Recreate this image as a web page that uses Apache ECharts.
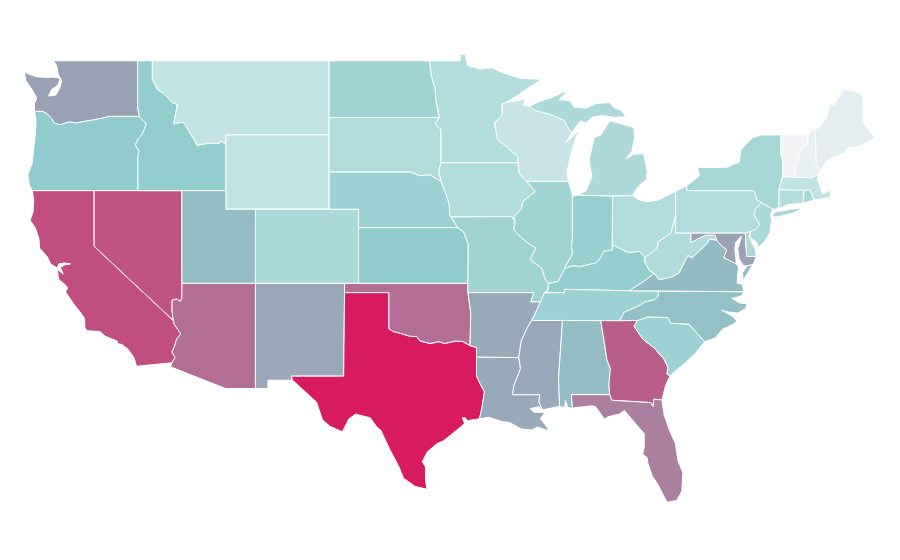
<!DOCTYPE html>
<html lang="en">

<head>
    <meta charset="UTF-8">
    <title>US states</title>
    <style>
        html, body { margin: 0; background: #fff; }
        #chart { width: 900px; height: 560px; }
    </style>
</head>

<body>
    <div id="chart"></div>
    <script src="https://cdn.jsdelivr.net/npm/echarts@6/dist/echarts.min.js"></script>
    <script>
        // values, 0 = palest, 100 = darkest
        var stateNames = ['Washington', 'Oregon', 'California', 'Nevada', 'Idaho', 'Montana', 'Wyoming', 'Utah', 'Arizona', 'Colorado', 'New Mexico', 'North Dakota', 'South Dakota', 'Nebraska', 'Kansas', 'Oklahoma', 'Texas', 'Minnesota', 'Iowa', 'Missouri', 'Arkansas', 'Louisiana', 'Wisconsin', 'Illinois', 'Michigan', 'Indiana', 'Ohio', 'Kentucky', 'Tennessee', 'Mississippi', 'Alabama', 'Georgia', 'Florida', 'South Carolina', 'North Carolina', 'Virginia', 'West Virginia', 'Maryland', 'Delaware', 'Pennsylvania', 'New Jersey', 'New York', 'Connecticut', 'Rhode Island', 'Massachusetts', 'Vermont', 'New Hampshire', 'Maine'];
        var stateValues = [75, 50, 90.5, 89.5, 49, 25, 26, 59.3, 84.5, 37, 71.5, 42.8, 33.5, 44, 50, 84.5, 100, 33, 33.5, 42, 70, 70, 22.9, 42, 36, 46, 33.5, 48, 44, 70, 59.3, 87.5, 81.3, 44, 56.4, 60.5, 34.6, 74.5, 37, 34, 37, 39, 32.7, 38, 26, 0, 5.7, 8.3];
        var scaleColors = ['#f4f4f6', '#c4e3e4', '#90cccd', '#9aa1b5', '#d81b60'];

        // shared state borders, lon,lat
        var borders = {
            wa_n: '-122.76,49 -117.04,49',
            wa_id: '-117.04,49 -117.04,46.42 -116.92,46',
            wa_or: '-124.05,46.27 -123.5,46.27 -123.2,46.15 -122.85,45.85 -122.75,45.65 -122.3,45.55 -121.7,45.7 -121.2,45.65 -120.6,45.74 -120,45.82 -119.3,45.93 -119,46 -116.92,46',
            c_wa: '-124.05,46.27 -124.05,46.7 -123.9,47 -124.2,47.43 -124.65,47.95 -124.73,48.38 -124,48.15 -123.3,48.1 -122.75,48.13 -122.3,48.05 -122.45,47.7 -122.9,47.45 -123.1,47.1 -122.6,47.15 -122.35,47.5 -122.2,47.9 -122.45,48.3 -122.55,48.75 -122.76,49',
            c_or: '-124.05,46.27 -123.95,45.8 -124,45 -124.1,44.3 -124.2,43.5 -124.5,42.85 -124.4,42.3 -124.2,42',
            or_ca: '-124.2,42 -120,42',
            or_nv: '-120,42 -117.03,42',
            or_id: '-117.03,42 -117.03,43.83 -116.95,44.15 -117.05,44.25 -117.2,44.45 -117.05,44.75 -116.85,44.9 -116.7,45.1 -116.46,45.6 -116.7,45.8 -116.92,46',
            id_n: '-117.04,49 -116.05,49',
            id_mt: '-116.05,49 -116.05,48 -115.7,47.45 -115.3,47.25 -114.7,46.75 -114.35,46.65 -114.6,45.6 -113.95,45.7 -113.45,45.05 -113,44.45 -112.3,44.55 -111.5,44.55 -111.4,44.7 -111.05,44.48',
            id_wy: '-111.05,44.48 -111.05,42',
            id_ut: '-111.05,42 -114.04,42',
            id_nv: '-114.04,42 -117.03,42',
            mt_n: '-116.05,49 -104.05,49',
            mt_nd: '-104.05,49 -104.05,45.94',
            mt_sd: '-104.05,45.94 -104.05,45',
            mt_wy: '-111.05,44.48 -111.05,45 -104.05,45',
            wy_sd: '-104.05,45 -104.05,43',
            wy_ne: '-104.05,43 -104.05,41',
            wy_co: '-104.05,41 -109.05,41',
            ut_wy: '-109.05,41 -111.05,41 -111.05,42',
            nd_n: '-104.05,49 -97.23,49',
            nd_mn: '-97.23,49 -97.1,48.2 -96.85,47.5 -96.8,46.9 -96.56,45.94',
            nd_sd: '-104.05,45.94 -96.56,45.94',
            sd_mn: '-96.56,45.94 -96.85,45.6 -96.45,45.3 -96.45,43.5',
            sd_ia: '-96.45,43.5 -96.6,43.1 -96.45,42.49',
            sd_ne: '-104.05,43 -98.5,43 -97.9,42.8 -97.2,42.85 -96.7,42.6 -96.45,42.49',
            ne_ia: '-96.45,42.49 -96.1,41.8 -95.9,41.3 -95.85,40.7 -95.77,40.58',
            ne_mo: '-95.77,40.58 -95.3,40',
            ne_ks: '-102.05,40 -95.3,40',
            co_ne: '-104.05,41 -102.05,41 -102.05,40',
            co_ks: '-102.05,40 -102.05,37',
            ks_mo: '-95.3,40 -94.9,39.75 -94.6,39.1 -94.62,37',
            ks_ok: '-102.05,37 -94.62,37',
            co_ok: '-102.05,37 -103,37',
            co_nm: '-103,37 -109.05,37',
            ut_co: '-109.05,37 -109.05,41',
            ut_az: '-109.05,37 -114.04,37',
            ut_nv: '-114.04,37 -114.04,42',
            nv_az: '-114.04,37 -114.04,36.2 -114.15,36.03 -114.4,36.15 -114.7,36.1 -114.72,35.6 -114.63,35',
            ca_nv: '-114.63,35 -120,39 -120,42',
            ca_az: '-114.63,35 -114.57,34.8 -114.12,34.28 -114.4,34 -114.55,33.6 -114.72,33.3 -114.5,33 -114.72,32.72',
            ca_mx: '-117.12,32.53 -114.72,32.72',
            c_ca: '-124.2,42 -124.1,41.5 -124.15,40.85 -124.35,40.4 -124,40 -123.75,39.4 -123.7,38.9 -123.2,38.45 -122.95,38.05 -122.5,37.82 -122.4,38.05 -122.05,38.1 -121.6,38.05 -122,38 -122.3,37.85 -122.1,37.5 -122.4,37.7 -122.5,37.7 -122.4,37.2 -122,36.95 -121.8,36.75 -121.95,36.55 -121.4,35.9 -120.9,35.4 -120.65,35.1 -120.63,34.6 -120.45,34.45 -119.6,34.4 -119.25,34.15 -118.8,34 -118.45,33.9 -118.4,33.75 -118.1,33.7 -117.7,33.45 -117.3,33 -117.12,32.53',
            az_s: '-114.72,32.72 -114.81,32.5 -111.07,31.33 -109.05,31.33',
            az_nm: '-109.05,31.33 -109.05,37',
            nm_s: '-109.05,31.33 -108.2,31.33 -108.2,31.78 -106.53,31.78',
            nm_ok: '-103,37 -103,36.5',
            nm_tx: '-103,36.5 -103.06,32 -106.62,32 -106.53,31.78',
            ok_tx: '-103,36.5 -100,36.5 -100,34.56 -99.7,34.4 -99.2,34.3 -98.6,34.15 -98.1,34.13 -97.9,33.9 -97.2,33.75 -96.6,33.85 -96.2,33.75 -95.5,33.88 -95,33.87 -94.48,33.64',
            mo_ok: '-94.62,37 -94.62,36.5',
            ok_ar: '-94.62,36.5 -94.43,35.4 -94.48,33.64',
            ar_tx: '-94.48,33.64 -94.04,33.55 -94.04,33.02',
            tx_la: '-94.04,33.02 -94.04,32 -93.8,31.6 -93.5,31.15 -93.65,30.4 -93.72,30.1 -93.84,29.7',
            c_tx: '-97.4,25.9 -97.5,26.4 -97.5,27.1 -97.72,27.38 -97.38,27.92 -96.7,28.37 -96.3,28.5 -95.8,28.82 -95.1,29.27 -94.85,29.45 -95,29.75 -94.8,29.75 -94.66,29.6 -93.84,29.7',
            tx_rio: '-106.53,31.78 -106,31.4 -104.9,30.6 -104.5,29.65 -104,29.3 -103.15,29 -102.7,29.7 -102.25,29.95 -101.25,29.75 -100.8,29.25 -100.55,29.1 -99.9,28 -99.3,27.1 -99,26.5 -98.2,26.05 -97.4,25.9',
            c_mn: '-97.23,49 -95.15,49 -95.15,49.38 -94.8,49.33 -94.65,48.75 -93.8,48.55 -92.95,48.62 -92.4,48.4 -91.05,48.05 -89.6,48 -90.5,47.55 -91.4,47.05 -92.05,46.75',
            mn_wi: '-92.05,46.75 -92.3,46.65 -92.29,46.1 -92.8,45.65 -92.75,45.3 -92.6,44.75 -91.9,44.3 -91.25,43.85 -91.22,43.5',
            ia_mn: '-96.45,43.5 -91.22,43.5',
            ia_wi: '-91.22,43.5 -91.15,42.95 -90.65,42.5',
            ia_il: '-90.65,42.5 -90.05,41.95 -90.9,41.4 -91,41 -91.5,40.6 -91.42,40.38',
            ia_mo: '-95.77,40.58 -91.7,40.6 -91.42,40.38',
            mo_il: '-91.42,40.38 -91.5,39.9 -91.05,39.5 -90.6,39.2 -90,38.9 -90.4,38.3 -89.6,37.8 -89.4,37.25 -89.15,37',
            mo_ky: '-89.15,37 -89.2,36.6 -89.42,36.5',
            mo_tn: '-89.42,36.5 -89.7,36',
            mo_ar: '-94.62,36.5 -90.15,36.5 -90.37,36 -89.7,36',
            tn_ar: '-89.7,36 -90.1,35.3 -90.3,35',
            ms_ar: '-90.3,35 -90.6,34.6 -91,33.9 -91.17,33',
            ar_la: '-94.04,33.02 -91.17,33',
            la_ms: '-91.17,33 -91.05,32.4 -91.5,31.5 -91.6,31 -89.75,31 -89.8,30.6 -89.55,30.18',
            c_la: '-93.84,29.7 -93.2,29.78 -92.3,29.55 -91.8,29.5 -91,29.15 -90.3,29.1 -89.9,29.25 -89.1,29.05 -89.4,29.4 -89.7,29.7 -89.4,30.05 -90.1,30.05 -90.4,30.25 -89.8,30.35 -89.55,30.18',
            c_ms: '-89.55,30.18 -88.4,30.37',
            ms_al: '-88.2,35 -88.47,31.9 -88.4,30.37',
            tn_ms: '-88.2,35 -90.3,35',
            tn_al: '-85.6,34.99 -88.2,35',
            tn_ga: '-84.32,34.99 -85.6,34.99',
            c_al: '-88.4,30.37 -88.05,30.3 -88,30.7 -87.85,30.3 -87.52,30.28',
            al_ga: '-85.6,34.99 -85.18,32.87 -84.95,32.4 -85.05,31.55 -85,31',
            al_fl: '-85,31 -87.6,31 -87.52,30.28',
            ga_fl: '-85,31 -84.86,30.7 -82.2,30.57 -82.05,30.36 -82,30.75 -81.45,30.72',
            c_fl: '-87.52,30.28 -86.2,30.4 -85.95,30.35 -85.35,29.68 -85.15,29.8 -84.35,29.95 -84,30.15 -83.2,29.4 -82.65,28.9 -82.65,28.2 -82.75,27.8 -82.45,27.6 -82.4,27.3 -82.1,26.6 -81.75,26.2 -81.1,25.2 -80.45,25.3 -80.1,25.8 -80.03,26.8 -80.35,27.4 -80.55,28.4 -80.9,29 -81.3,29.9 -81.45,30.72',
            c_ga: '-81.45,30.72 -81.2,31.5 -80.9,32.03',
            ga_sc: '-83.1,35 -83.35,34.7 -82.75,34 -81.95,33.5 -81.3,32.9 -81.05,32.5 -81.1,32.1 -80.9,32.03',
            nc_sc: '-83.1,35 -82.4,35.2 -81.05,35.15 -80.85,34.85 -79.6,34.8 -78.55,33.86',
            c_sc: '-80.9,32.03 -80.5,32.3 -79.9,32.7 -79.2,33.2 -78.55,33.86',
            nc_ga: '-84.32,34.99 -83.1,35',
            c_nc: '-78.55,33.86 -77.85,34.05 -77.3,34.55 -76.7,34.75 -76.35,34.95 -76.6,35.2 -77.4,35.55 -76.9,35.45 -76.3,35.4 -75.75,35.65 -75.7,35.9 -76.2,35.95 -76.7,36.2 -76.1,36.3 -75.87,36.55',
            tn_nc: '-81.68,36.59 -81.7,36.3 -82,36.1 -82.6,36 -83.1,35.75 -84,35.45 -84.32,34.99',
            va_nc: '-81.68,36.59 -75.87,36.55',
            tn_va: '-83.68,36.6 -81.68,36.59',
            ky_tn: '-89.42,36.5 -88.07,36.5 -88.07,36.68 -83.68,36.6',
            ky_va: '-81.97,37.54 -82.7,37.1 -83.68,36.6',
            ky_wv: '-82.6,38.42 -82.6,38.15 -82.3,37.7 -81.97,37.54',
            il_ky: '-89.15,37 -88.5,37.1 -88.05,37.8',
            il_in: '-87.53,41.7 -87.53,39.35 -87.6,39 -87.5,38.6 -87.95,38 -88.05,37.8',
            in_ky: '-88.05,37.8 -87.5,37.95 -87.05,37.9 -86.5,38 -85.9,38.1 -85.6,38.4 -85.4,38.73 -84.82,38.8 -84.82,39.1',
            in_oh: '-84.8,41.7 -84.82,39.1',
            oh_ky: '-84.82,39.1 -84.25,38.85 -83.7,38.65 -83,38.72 -82.6,38.42',
            oh_wv: '-82.6,38.42 -82.2,38.6 -81.75,38.95 -81.7,39.25 -80.85,39.7 -80.52,40.64',
            oh_pa: '-80.52,40.64 -80.52,41.97',
            pa_wv: '-80.52,40.64 -80.52,39.72 -79.48,39.72',
            md_wv: '-79.48,39.72 -79.48,39.2 -78.9,39.45 -78.45,39.6 -77.85,39.6 -77.72,39.32',
            va_wv: '-77.72,39.32 -78.2,39.4 -78.4,39.15 -78.9,38.75 -79.4,38.4 -79.7,38.5 -80.3,37.55 -80.8,37.35 -81.65,37.2 -81.97,37.54',
            c_va: '-75.87,36.55 -76,36.95 -76.35,37 -76.3,37.5 -76.25,37.9 -76.4,38.05',
            va_md: '-76.4,38.05 -76.9,38.25 -77.25,38.4 -77.05,38.8 -77.5,39.1 -77.72,39.32',
            es: '-75.25,38.03 -75.65,37.95',
            va_es: '-75.65,37.95 -75.97,37.6 -75.95,37.15 -75.6,37.6 -75.25,38.03',
            c_md: '-76.4,38.05 -76.5,38.85 -76.45,39.2 -76.05,39.55 -76.1,39.35 -76.3,38.9 -76.2,38.3 -75.9,37.95 -75.65,37.95',
            md_es: '-75.05,38.45 -75.25,38.03',
            md_de: '-75.05,38.45 -75.7,38.46 -75.79,39.72',
            md_pa: '-79.48,39.72 -75.79,39.72',
            de_pa: '-75.79,39.72 -75.42,39.8',
            c_de: '-75.42,39.8 -75.55,39.55 -75.4,39.3 -75.1,38.8 -75.05,38.45',
            c_nj: '-73.9,41 -74.1,40.7 -74,40.45 -74.1,39.75 -74.45,39.3 -74.9,38.93 -75,39.2 -75.5,39.5 -75.42,39.8',
            pa_nj: '-74.7,41.36 -75.1,41 -75.2,40.7 -74.8,40.15 -75.1,39.9 -75.42,39.8',
            ny_nj: '-74.7,41.36 -73.9,41',
            ny_pa: '-79.76,42.27 -79.76,42 -75.2,42 -75,41.5 -74.7,41.36',
            c_pa: '-80.52,41.97 -79.76,42.27',
            c_oh: '-83.45,41.73 -83,41.5 -82.5,41.4 -81.7,41.5 -80.52,41.97',
            c_ny1: '-79.76,42.27 -78.9,42.8 -79.05,43.26 -77.6,43.25 -77,43.27 -76.2,43.55 -76.1,44.2 -75.3,44.85 -74.7,45 -73.35,45.01',
            ny_vt: '-73.35,45.01 -73.4,44 -73.25,43.6 -73.27,42.75',
            ny_ma: '-73.27,42.75 -73.5,42.05',
            ny_ct: '-73.5,42.05 -73.5,41.2 -73.65,41',
            c_ny2: '-73.65,41 -73.9,41',
            li: '-74,40.6 -73.75,40.85 -72.6,41 -71.87,41.07 -72.5,40.8 -73.7,40.58',
            vt_n: '-73.35,45.01 -71.5,45.01',
            vt_nh: '-71.5,45.01 -71.6,44.5 -71.9,44.3 -72.05,44.1 -72.35,43.3 -72.46,42.73',
            vt_ma: '-73.27,42.75 -72.46,42.73',
            nh_ma: '-72.46,42.73 -71.3,42.7 -70.82,42.87',
            nh_n: '-71.5,45.01 -71.3,45.3 -71.08,45.3',
            nh_me: '-71.08,45.3 -71,44.3 -70.97,43.4 -70.7,43.07',
            c_nh: '-70.7,43.07 -70.82,42.87',
            me_o: '-71.08,45.3 -70.8,45.4 -70.3,45.9 -70,46.7 -69.8,46.6 -69.1,47.45 -68.3,47.35 -67.8,47.07 -67.8,45.7 -67.45,45.3 -66.95,44.85 -68,44.4 -68.8,44.3 -69.1,44 -70,43.75 -70.3,43.55 -70.7,43.07',
            ma_ct: '-73.5,42.05 -71.8,42.02',
            ma_ri: '-71.8,42.02 -71.38,42.02 -71.2,41.65 -71.13,41.5',
            c_ma: '-71.13,41.5 -70.65,41.55 -70,41.65 -70,42.05 -70.55,41.8 -70.7,42.25 -70.9,42.6 -70.82,42.87',
            ct_ri: '-71.8,42.02 -71.86,41.32',
            c_ri: '-71.86,41.32 -71.3,41.45 -71.13,41.5',
            c_ct: '-73.65,41 -72.9,41.25 -71.86,41.32',
            c_il: '-87.53,41.7 -87.55,41.85 -87.8,42.5',
            c_in: '-87.53,41.7 -87.2,41.76',
            mi_in: '-84.8,41.7 -87.2,41.76',
            mi_oh: '-84.8,41.7 -83.45,41.73',
            wi_il: '-90.65,42.5 -87.8,42.5',
            c_wi: '-87.8,42.5 -87.9,43 -87.7,43.7 -87.5,44.3 -87.3,44.8 -87.05,45.3 -87.6,44.85 -88,44.55 -87.6,45.1',
            wi_up: '-87.6,45.1 -87.8,45.35 -88.1,45.8 -88.7,46 -89.1,46.13 -90.12,46.34 -90.4,46.55',
            c_wi2: '-90.4,46.55 -90.85,46.6 -90.75,46.95 -91.2,46.85 -92.05,46.75',
            c_up: '-90.4,46.55 -89.8,46.8 -89,47 -88.3,47.25 -87.8,47.4 -88.45,46.9 -87.7,46.85 -87.4,46.5 -86.6,46.45 -85.9,46.7 -85,46.75 -84.7,46.47 -84.25,46.35 -84.1,46.2 -83.9,45.98 -84.7,45.95 -85.5,46.05 -86.2,45.95 -86.6,45.65 -87,45.75 -87.6,45.1',
            c_lp: '-87.2,41.76 -86.6,42 -86.2,42.75 -86.4,43.65 -86.05,44.85 -85.6,45 -85,45.75 -84.4,45.65 -83.35,45.4 -83.3,44.85 -83.5,44.1 -83.9,43.7 -83.4,43.95 -82.7,44 -82.45,43 -82.5,42.6 -83.1,42.2 -83.45,41.73'
        };

        // which borders make up each state, several rings for islands and peninsulas
        var stateRings = {
            'Washington': [['wa_n', 'wa_id', 'wa_or', 'c_wa']],
            'Oregon': [['wa_or', 'c_or', 'or_ca', 'or_nv', 'or_id']],
            'California': [['or_ca', 'ca_nv', 'ca_az', 'ca_mx', 'c_ca']],
            'Nevada': [['or_nv', 'id_nv', 'ut_nv', 'nv_az', 'ca_nv']],
            'Idaho': [['id_n', 'id_mt', 'id_wy', 'id_ut', 'id_nv', 'or_id', 'wa_id']],
            'Montana': [['mt_n', 'mt_nd', 'mt_sd', 'mt_wy', 'id_mt']],
            'Wyoming': [['mt_wy', 'wy_sd', 'wy_ne', 'wy_co', 'ut_wy', 'id_wy']],
            'Utah': [['id_ut', 'ut_wy', 'ut_co', 'ut_az', 'ut_nv']],
            'Arizona': [['ut_az', 'nv_az', 'ca_az', 'az_s', 'az_nm']],
            'Colorado': [['wy_co', 'co_ne', 'co_ks', 'co_ok', 'co_nm', 'ut_co']],
            'New Mexico': [['co_nm', 'nm_ok', 'nm_tx', 'nm_s', 'az_nm']],
            'North Dakota': [['nd_n', 'nd_mn', 'nd_sd', 'mt_nd']],
            'South Dakota': [['nd_sd', 'sd_mn', 'sd_ia', 'sd_ne', 'wy_sd', 'mt_sd']],
            'Nebraska': [['sd_ne', 'ne_ia', 'ne_mo', 'ne_ks', 'co_ne', 'wy_ne']],
            'Kansas': [['ne_ks', 'ks_mo', 'ks_ok', 'co_ks']],
            'Oklahoma': [['ks_ok', 'mo_ok', 'ok_ar', 'ok_tx', 'nm_ok', 'co_ok']],
            'Texas': [['ok_tx', 'ar_tx', 'tx_la', 'c_tx', 'tx_rio', 'nm_tx']],
            'Minnesota': [['c_mn', 'mn_wi', 'ia_mn', 'sd_mn', 'nd_mn']],
            'Iowa': [['ia_mn', 'ia_wi', 'ia_il', 'ia_mo', 'ne_ia', 'sd_ia']],
            'Missouri': [['ia_mo', 'mo_il', 'mo_ky', 'mo_tn', 'mo_ar', 'mo_ok', 'ks_mo', 'ne_mo']],
            'Arkansas': [['mo_ar', 'tn_ar', 'ms_ar', 'ar_la', 'ar_tx', 'ok_ar']],
            'Louisiana': [['ar_la', 'la_ms', 'c_la', 'tx_la']],
            'Wisconsin': [['c_wi2', 'mn_wi', 'ia_wi', 'wi_il', 'c_wi', 'wi_up']],
            'Illinois': [['wi_il', 'ia_il', 'mo_il', 'il_ky', 'il_in', 'c_il']],
            'Michigan': [['c_up', 'wi_up'], ['c_lp', 'mi_oh', 'mi_in']],
            'Indiana': [['c_in', 'mi_in', 'in_oh', 'in_ky', 'il_in']],
            'Ohio': [['c_oh', 'oh_pa', 'oh_wv', 'oh_ky', 'in_oh', 'mi_oh']],
            'Kentucky': [['mo_ky', 'il_ky', 'in_ky', 'oh_ky', 'ky_wv', 'ky_va', 'ky_tn']],
            'Tennessee': [['ky_tn', 'tn_va', 'tn_nc', 'tn_ga', 'tn_al', 'tn_ms', 'tn_ar', 'mo_tn']],
            'Mississippi': [['ms_ar', 'tn_ms', 'ms_al', 'c_ms', 'la_ms']],
            'Alabama': [['tn_al', 'al_ga', 'al_fl', 'c_al', 'ms_al']],
            'Georgia': [['tn_ga', 'nc_ga', 'ga_sc', 'c_ga', 'ga_fl', 'al_ga']],
            'Florida': [['al_fl', 'c_fl', 'ga_fl']],
            'South Carolina': [['ga_sc', 'c_sc', 'nc_sc']],
            'North Carolina': [['va_nc', 'c_nc', 'nc_sc', 'nc_ga', 'tn_nc']],
            'Virginia': [['ky_va', 'tn_va', 'va_nc', 'c_va', 'va_md', 'va_wv'], ['es', 'va_es']],
            'West Virginia': [['oh_wv', 'pa_wv', 'md_wv', 'va_wv', 'ky_wv']],
            'Maryland': [['md_pa', 'md_de', 'md_es', 'es', 'c_md', 'va_md', 'md_wv']],
            'Delaware': [['de_pa', 'c_de', 'md_de']],
            'Pennsylvania': [['c_pa', 'ny_pa', 'pa_nj', 'de_pa', 'md_pa', 'pa_wv', 'oh_pa']],
            'New Jersey': [['ny_nj', 'c_nj', 'pa_nj']],
            'New York': [['c_ny1', 'ny_vt', 'ny_ma', 'ny_ct', 'c_ny2', 'ny_nj', 'ny_pa'], ['li']],
            'Connecticut': [['ma_ct', 'ct_ri', 'c_ct', 'ny_ct']],
            'Rhode Island': [['ct_ri', 'c_ri', 'ma_ri']],
            'Massachusetts': [['vt_ma', 'nh_ma', 'c_ma', 'ma_ri', 'ma_ct', 'ny_ma']],
            'Vermont': [['vt_n', 'vt_nh', 'vt_ma', 'ny_vt']],
            'New Hampshire': [['nh_n', 'nh_me', 'c_nh', 'nh_ma', 'vt_nh']],
            'Maine': [['me_o', 'nh_me']]
        };

        function parseBorder(name) {
            return borders[name].split(' ').map(function(p) {
                return p.split(',').map(Number);
            });
        }

        function dist(a, b) {
            return Math.abs(a[0] - b[0]) + Math.abs(a[1] - b[1]);
        }

        // join borders end to end, flipping any that run the other way
        function buildRing(names) {
            var pts = parseBorder(names[0]);
            if (names.length > 1) {
                var next = parseBorder(names[1]);
                var ends = [next[0], next[next.length - 1]];
                var tail = Math.min(dist(pts[pts.length - 1], ends[0]), dist(pts[pts.length - 1], ends[1]));
                var head = Math.min(dist(pts[0], ends[0]), dist(pts[0], ends[1]));
                if (head < tail) pts.reverse();
            }
            for (var i = 1; i < names.length; i++) {
                var b = parseBorder(names[i]);
                var end = pts[pts.length - 1];
                if (dist(b[b.length - 1], end) < dist(b[0], end)) b.reverse();
                pts = pts.concat(b);
            }
            pts.push(pts[0]);
            return pts;
        }

        var features = stateNames.map(function(name) {
            return {
                type: 'Feature',
                properties: { name: name },
                geometry: {
                    type: 'MultiPolygon',
                    coordinates: stateRings[name].map(function(r) {
                        return [buildRing(r)];
                    })
                }
            };
        });

        echarts.registerMap('usa', { type: 'FeatureCollection', features: features });

        var chart = echarts.init(document.getElementById('chart'));

        chart.setOption({
            animation: false,
            backgroundColor: '#fff',
            visualMap: {
                show: false,
                min: 0,
                max: 100,
                inRange: { color: scaleColors }
            },
            series: [{
                type: 'map',
                map: 'usa',
                roam: false,
                aspectScale: 0.794,
                layoutCenter: [450, 278],
                layoutSize: 851,
                label: { show: false },
                itemStyle: { borderColor: '#fff', borderWidth: 1 },
                emphasis: { disabled: true },
                select: { disabled: true },
                data: stateNames.map(function(name, i) {
                    return { name: name, value: stateValues[i] };
                })
            }]
        });
    </script>
</body>

</html>
